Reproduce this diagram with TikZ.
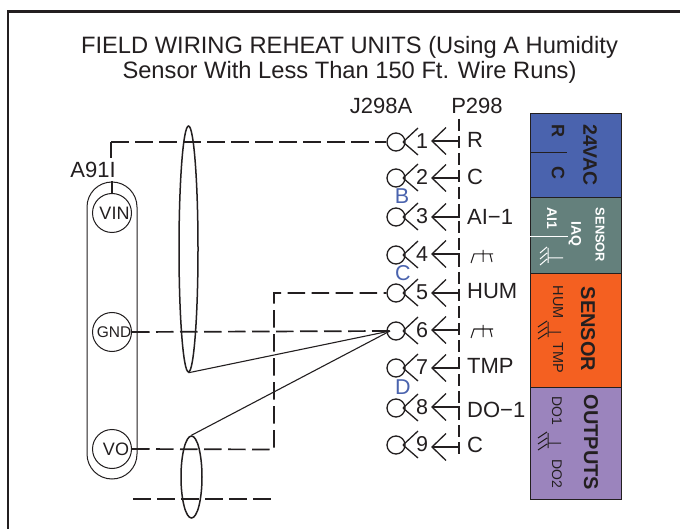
\documentclass[tikz,border=0pt]{standalone}
\usepackage{fontspec}
\setmainfont{Liberation Sans}
\usetikzlibrary{shapes.geometric}
\definecolor{bluebox}{HTML}{4A63AE}
\definecolor{greybox}{HTML}{64807C}
\definecolor{orangebox}{HTML}{F46021}
\definecolor{purplebox}{HTML}{9B84BD}
\definecolor{ink}{HTML}{231F20}
\definecolor{letterblue}{HTML}{4A63AE}
\tikzset{
  x=1pt,y=-1pt,
  wire/.style={draw=ink,line width=1.7pt,dash pattern=on 17.5pt off 6.5pt},
  thin wire/.style={draw=ink,line width=1.1pt},
  pin/.style={draw=ink,line width=1.3pt},
  sock/.style={circle,draw=ink,line width=1.3pt,minimum size=18pt,inner sep=0pt},
  term/.style={circle,draw=ink,line width=1pt,minimum size=39pt,inner sep=0pt,text=ink},
  shield/.style={ellipse,draw=ink,line width=1.5pt,inner sep=0pt,fill=none},
  lab/.style={font=\fontsize{22}{22}\selectfont,text=ink,inner sep=0pt},
  num/.style={font=\fontsize{21.5}{21.5}\selectfont,text=ink,inner sep=0pt},
  bluelab/.style={font=\fontsize{21.5}{21.5}\selectfont,text=letterblue,inner sep=0pt},
  blk/.style={draw=ink,line width=1.2pt,minimum width=91pt,inner sep=0pt,anchor=north west},
  rot/.style={rotate=-90,inner sep=0pt},
}
\begin{document}
\begin{tikzpicture}
\useasboundingbox (0,0) rectangle (680,529);
\fill[white] (0,0) rectangle (680,529);
\draw[ink,line width=2.5pt] (8,529) -- (8,11.5) -- (680,11.5);
\node[align=center,inner sep=0pt,text=ink,font=\fontsize{23.7}{25}\selectfont] (title) at (349.5,60) {FIELD WIRING REHEAT UNITS (Using A Humidity\\Sensor With Less Than 150 Ft. Wire Runs)};
\node[lab] (j) at (381,106) {J298A};
\node[lab] (p) at (477,106) {P298};
\node[lab] (a91) at (93,170) {A91I};

% colour blocks
\node[blk,fill=bluebox,minimum height=84pt] (b1) at (530,113) {};
\node[blk,fill=greybox,minimum height=76pt] (b2) at (530,197) {};
\node[blk,fill=orangebox,minimum height=114pt] (b3) at (530,273) {};
\node[blk,fill=purplebox,minimum height=112pt] (b4) at (530,387) {};
\node[rot,font=\bfseries\fontsize{19.5}{19.5}\selectfont,text=ink] (t1) at (590,155) {24VAC};
\node[rot,font=\bfseries\fontsize{18}{18}\selectfont,text=ink] (t2) at (558,131) {R};
\node[rot,font=\bfseries\fontsize{18}{18}\selectfont,text=ink] (t3) at (558,173) {C};
\draw[ink,line width=1pt] (530,153) -- (567,153);
\node[rot,font=\bfseries\fontsize{12.8}{12.8}\selectfont,text=white] (t4) at (600,235) {SENSOR};
\node[rot,font=\bfseries\fontsize{14}{14}\selectfont,text=white] (t5) at (575,234) {IAQ};
\node[rot,font=\bfseries\fontsize{14}{14}\selectfont,text=white] (t6) at (552,218) {AI1};
\draw[white,line width=1pt] (529,237) -- (568,237);
\draw[white,line width=1pt] (563,258) -- (548,258) (548,248) -- (548,263)
  (547,247) -- (540,253) (547,253) -- (540,259) (547,259) -- (540,265);
\node[rot,font=\bfseries\fontsize{20}{20}\selectfont,text=ink] (t7) at (588,329) {SENSOR};
\node[rot,font=\fontsize{14.5}{14.5}\selectfont,text=ink] (t8) at (558,302.5) {HUM};
\node[rot,font=\fontsize{14.5}{14.5}\selectfont,text=ink] (t9) at (558,357.5) {TMP};
\draw[ink,line width=1pt] (561,332) -- (548,332) (548,322) -- (548,337)
  (547,321) -- (538,327) (547,327) -- (538,333) (547,333) -- (538,339);
\node[rot,font=\bfseries\fontsize{20}{20}\selectfont,text=ink] (t10) at (591,442.5) {OUTPUTS};
\node[rot,font=\fontsize{14}{14}\selectfont,text=ink] (t11) at (557,410.5) {DO1};
\node[rot,font=\fontsize{14}{14}\selectfont,text=ink] (t12) at (557,474) {DO2};
\draw[ink,line width=1pt] (561,443) -- (548,443) (548,433) -- (548,448)
  (547,432) -- (538,438) (547,438) -- (538,444) (547,444) -- (538,450);

% dashed P298 line
\coordinate (ptop) at (459,119);
\coordinate (pbot) at (459,458);
\draw[ink,line width=1.2pt,dash pattern=on 12pt off 5pt] (ptop) -- (pbot);

% sockets: number, socket y, pin y
\foreach \n/\y/\py in {1/142/141,2/178/178,3/217/217,4/255/254,5/293/293,6/331/330,7/368/368,8/408/407,9/445/447}{
  \node[sock] (s\n) at (396,\y) {};
  \coordinate (fork\n) at (403,\y);
  \draw[pin] (fork\n) -- ++(15,-14);
  \draw[pin] (fork\n) -- ++(15,13);
  \node[num] (n\n) at (422,\y-1) {\n};
  \coordinate (tip\n) at (432,\py);
  \coordinate (end\n) at (460,\py);
  \draw[pin] (tip\n) ++(14,-13.5) -- (tip\n) -- ++(14,13.5);
  \draw[pin] (tip\n) -- (end\n);
}
\node[lab,anchor=west] (l1) at (467,140) {R};
\node[lab,anchor=west] (l2) at (467,177) {C};
\node[lab,anchor=west] (l3) at (467,217) {AI−1};
\node[lab,anchor=west] (l5) at (467,291) {HUM};
\node[lab,anchor=west] (l7) at (467,366) {TMP};
\node[lab,anchor=west] (l8) at (467,410) {DO−1};
\node[lab,anchor=west] (l9) at (467,445) {C};
% chassis ground symbols
\foreach \y in {254,329}{
  \draw[ink,line width=1pt] (471,\y+9) -- (474,\y) -- (493,\y) (483,\y-4) -- (483,\y+8) (490,\y) -- (492,\y+8);
}
\node[bluelab] (B) at (402,196) {B};
\node[bluelab] (C) at (403,273) {C};
\node[bluelab] (D) at (403,387) {D};

% sensor
\draw[ink,line width=1pt] (87,207) arc[start angle=180,end angle=360,radius=25] -- (137,454) arc[start angle=0,end angle=180,radius=25] -- cycle;
\node[term] (vin) at (112,213) {};
\node[term] (gnd) at (112,332) {};
\node[term] (vo) at (112,449) {};
\node[inner sep=0pt,text=ink,font=\fontsize{18}{18}\selectfont] (vint) at (114.5,213) {VIN};
\node[inner sep=0pt,text=ink,font=\fontsize{15.5}{15.5}\selectfont] (gndt) at (114,332) {GND};
\node[inner sep=0pt,text=ink,font=\fontsize{18}{18}\selectfont] (vot) at (116,449) {VO};
\coordinate (vinstub) at (112,181);
\draw[ink,line width=1.2pt] (vinstub) -- (vin.north);

% shields
\node[shield,minimum width=19pt,minimum height=246pt] (sh1) at (188.5,249) {};
\node[shield,minimum width=21pt,minimum height=82pt] (sh2) at (191.5,477) {};

% wires
\coordinate (vtop) at (111,142);
\coordinate (vdown) at (111,158);
\coordinate (s6in) at (390,331);
\draw[ink,line width=1.7pt] (vdown) -- (vtop);
\draw[wire] (vtop) -- (s1.west);
\draw[wire] (gnd.east) -- (s6in);
\coordinate (w5a) at (274,293);
\coordinate (w5b) at (274,449.5);
\draw[wire] (vo.east) -- (w5b) -- (w5a) -- (s5.west);
\coordinate (u1) at (133,499);
\coordinate (u2) at (272,499);
\draw[wire] (u1) -- (u2);
\draw[thin wire] (sh1.south) -- (s6in);
\draw[thin wire] (sh2.north) -- (s6in);
\end{tikzpicture}
\end{document}
